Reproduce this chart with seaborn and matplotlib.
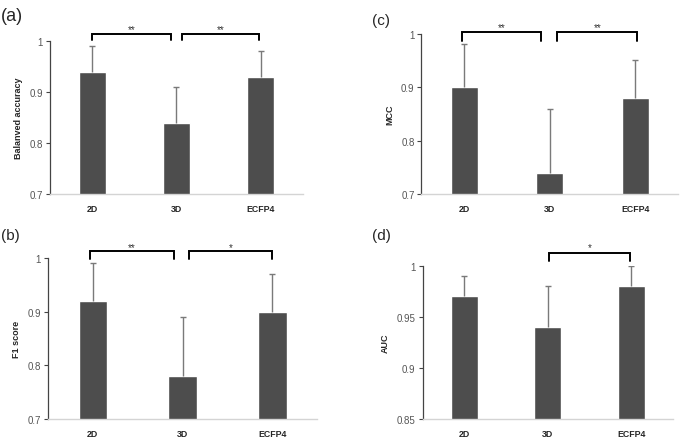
import numpy as np
import pandas as pd
import seaborn as sns
from matplotlib import pyplot as plt

# data
features = ["2D", "3D", "ECFP4"]

bal_acc = [0.94, 0.84, 0.93]
bal_acc_sd = [0.05, 0.07, 0.05]
f1 = [0.92, 0.78, 0.90]
f1_sd = [0.07, 0.11, 0.07]
mcc = [0.90, 0.74, 0.88]
mcc_sd = [0.08, 0.12, 0.07]
auc = [0.97, 0.94, 0.98]
auc_sd = [0.02, 0.04, 0.02]

sns.set_theme(style="white")
plt.rcParams['font.family'] = ['Liberation Sans', 'DejaVu Sans']

BAR = "#4d4d4d"
ERR = "#7a7a7a"

fig = plt.figure(figsize=(6.85, 4.39), dpi=100)


def panel(rect, vals, sd, ylabel, ylim, yticks, yticklabels, brackets, tag, tagpos, tagsize):
    ax = fig.add_axes(rect)
    df = pd.DataFrame({"feature": features, "value": vals})
    sns.barplot(data=df, x="feature", y="value", color=BAR, saturation=1,
                width=0.32, errorbar=None, ax=ax)
    x = np.arange(len(features))
    # upper whisker only
    _, caps, _ = ax.errorbar(x, vals, yerr=[np.zeros(len(sd)), sd], fmt="none",
                             ecolor=ERR, elinewidth=1.0, capsize=2.5,
                             capthick=1.0, zorder=3)
    caps[0].set_visible(False)
    ax.set_xlim(-0.5, 2.5)
    ax.set_ylim(*ylim)
    ax.set_yticks(yticks)
    ax.set_yticklabels(yticklabels)
    ax.set_xlabel("")
    ax.set_ylabel(ylabel, fontsize=6.5, fontweight="bold", labelpad=5)
    ax.tick_params(axis="y", labelsize=7, labelcolor="#555555", length=3,
                   width=0.8, color="#444444", left=True, pad=2)
    ax.tick_params(axis="x", labelsize=6.3, length=0, pad=7)
    for lab in ax.get_xticklabels():
        lab.set_fontweight("bold")
    for s in ["top", "right"]:
        ax.spines[s].set_visible(False)
    ax.spines["left"].set_color("#444444")
    ax.spines["left"].set_linewidth(0.9)
    ax.spines["bottom"].set_color("#d4d4d4")
    ax.spines["bottom"].set_linewidth(1.0)
    for x0, x1, yh, ye, ys, label in brackets:
        ax.plot([x0, x0, x1, x1], [ye, yh, yh, ye], color="black", lw=1.4,
                clip_on=False, solid_joinstyle="miter")
        ax.text((x0 + x1) / 2, ys, label, ha="center", va="center",
                fontsize=7, color="#333333", clip_on=False)
    fig.text(tagpos[0], tagpos[1], tag, fontsize=tagsize, ha="left", va="center")
    return ax


panel([0.0730, 0.5558, 0.3693, 0.3485], bal_acc, bal_acc_sd, "Balanved accuracy",
      (0.7, 1.0), [0.7, 0.8, 0.9, 1.0], ["0.7", "0.8", "0.9", "1"],
      [(0.0, 0.94, 1.0137, 1.0025, 1.024, "**"),
       (1.06, 1.98, 1.0137, 1.0025, 1.024, "**")],
      "(a)", (0.002, 0.962), 13)

panel([0.0701, 0.0433, 0.3927, 0.3667], f1, f1_sd, "F1 score",
      (0.7, 1.0), [0.7, 0.8, 0.9, 1.0], ["0.7", "0.8", "0.9", "1"],
      [(-0.03, 0.9, 1.013, 0.998, 1.021, "**"),
       (1.07, 2.0, 1.013, 0.998, 1.021, "*")],
      "(b)", (0.002, 0.463), 11)

panel([0.6153, 0.5558, 0.3745, 0.3651], mcc, mcc_sd, "MCC",
      (0.7, 1.0), [0.7, 0.8, 0.9, 1.0], ["0.7", "0.8", "0.9", "1"],
      [(-0.03, 0.9, 1.0026, 0.987, 1.012, "**"),
       (1.09, 2.02, 1.0026, 0.987, 1.012, "**")],
      "(c)", (0.543, 0.952), 11)

panel([0.6168, 0.0433, 0.3657, 0.3492], auc, auc_sd, "AUC",
      (0.85, 1.0), [0.85, 0.9, 0.95, 1.0], ["0.85", "0.9", "0.95", "1"],
      [(1.02, 1.98, 1.0125, 1.0044, 1.018, "*")],
      "(d)", (0.543, 0.463), 11)

plt.savefig("out.png", dpi=100)
